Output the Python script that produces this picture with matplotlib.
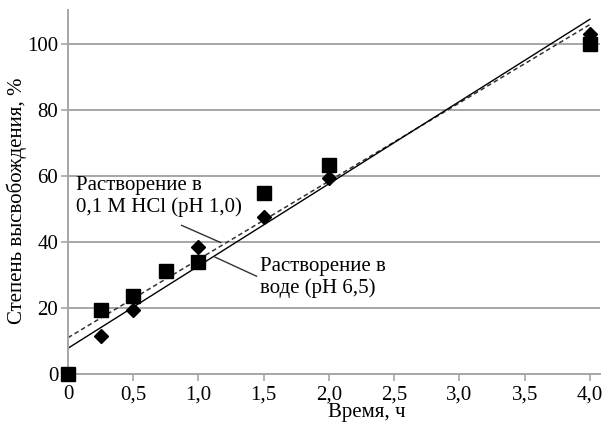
import matplotlib
matplotlib.use("Agg")
import matplotlib.pyplot as plt
import numpy as np

# Data
time_hcl = [0, 0.25, 0.5, 0.75, 1.0, 1.5, 2.0, 4.0]
release_hcl = [0, 19.3, 23.5, 31.1, 33.9, 54.7, 63.2, 100.0]      # squares
time_water = [0.25, 0.5, 1.0, 1.5, 2.0, 4.0]
release_water = [11.4, 19.5, 38.3, 47.4, 59.4, 103.0]             # diamonds

fit_x = [0, 4.0]
hcl_fit = (23.7, 11.0)     # slope, intercept (dashed)
water_fit = (24.9, 7.8)    # slope, intercept (solid)

xticks = [0, 0.5, 1.0, 1.5, 2.0, 2.5, 3.0, 3.5, 4.0]
xticklabels = ["0", "0,5", "1,0", "1,5", "2,0", "2,5", "3,0", "3,5", "4,0"]
yticks = [0, 20, 40, 60, 80, 100]

plt.rcParams['font.family'] = ['Liberation Serif', 'DejaVu Serif']

fig = plt.figure(figsize=(6.04, 4.22), dpi=100)
ax = fig.add_axes([68/604, 48/422, 532/604, 364/422])

grey = '#a6a6a6'
ax.set_xlim(0, 4.077)
ax.set_ylim(0, 110.2)
for y in yticks[1:]:
    ax.axhline(y, color=grey, lw=1.4, zorder=0)

fx = np.array(fit_x)
ax.plot(fx, hcl_fit[0]*fx + hcl_fit[1], color='#333333', lw=1.1,
        linestyle=(0, (3, 2)), zorder=2)
ax.plot(fx, water_fit[0]*fx + water_fit[1], color='black', lw=1.0, zorder=2)

ax.plot(time_water, release_water, linestyle='none', marker='D', markersize=7.5,
        color='black', zorder=3, clip_on=False)
ax.plot(time_hcl, release_hcl, linestyle='none', marker='s', markersize=10,
        color='black', zorder=4, clip_on=False)

for s in ['top', 'right']:
    ax.spines[s].set_visible(False)
for s in ['left', 'bottom']:
    ax.spines[s].set_color(grey)
    ax.spines[s].set_linewidth(1.4)

ax.set_xticks(xticks)
ax.set_xticklabels(xticklabels)
ax.set_yticks(yticks)
ax.tick_params(axis='both', colors=grey, labelcolor='black', labelsize=15,
               length=5, width=1.2)
ax.tick_params(axis='y', pad=2)
ax.tick_params(axis='x', pad=3)

# Annotations
ax.text(0.06, 59.8, "Растворение в\n0,1 M HCl (pH 1,0)", fontsize=15,
        ha='left', va='top', linespacing=1.1)
ax.plot([0.871, 1.170], [45.0, 39.8], color='#333333', lw=1.0)
ax.text(1.47, 35.3, "Растворение в\nводе (pH 6,5)", fontsize=15,
        ha='left', va='top', linespacing=1.1)
ax.plot([1.126, 1.445], [35.4, 29.6], color='#333333', lw=1.0)

fig.text(367/604, 5/422, "Время, ч", fontsize=15, ha='center', va='baseline')
fig.text(17/604, 1 - 201/422, "Степень высвобождения, %", fontsize=15,
         ha='center', va='center', rotation=90)

fig.savefig("out.png", dpi=100)
